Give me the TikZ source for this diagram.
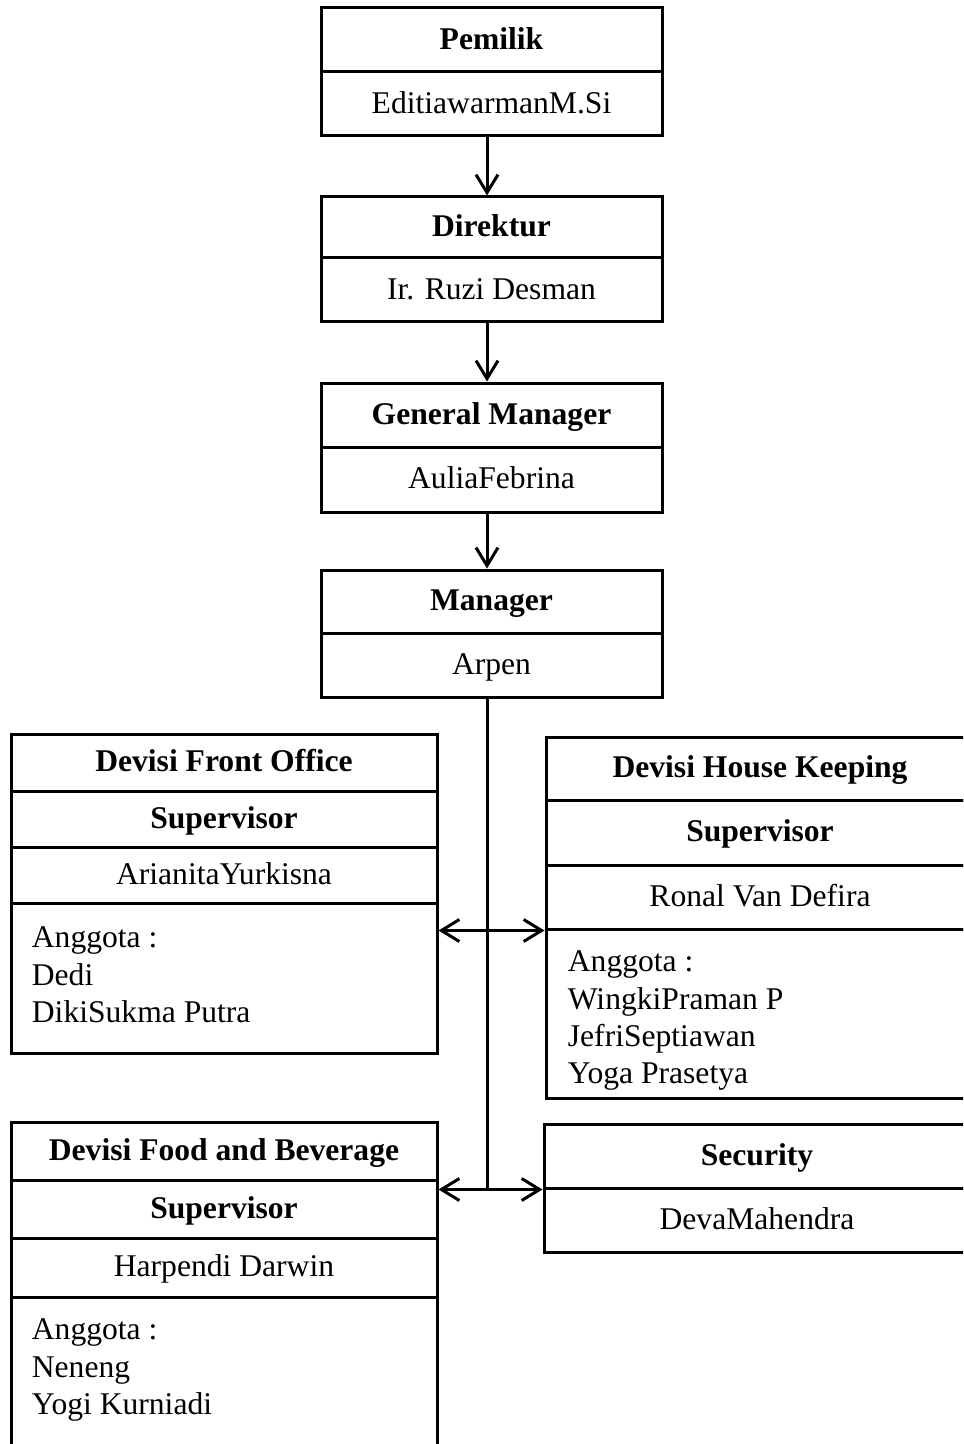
\documentclass[tikz,border=0pt]{standalone}
\usepackage{fontspec}
\setmainfont{Liberation Serif}
\usetikzlibrary{arrows.meta}
\begin{document}
\begin{tikzpicture}[x=0.5pt,y=-0.5pt,
  cell/.style={draw, line width=1.5pt, inner sep=0pt, rectangle,
    font=\fontsize{15.8pt}{18.65pt}\selectfont,
    text height=1.0em, text depth=0.086em},
  topcell/.style={cell, minimum width=170.5pt},
  widecell/.style={cell, minimum width=213pt},
  hkcell/.style={cell, minimum width=214pt},
  bf/.style={font=\fontsize{15.8pt}{18.65pt}\selectfont\bfseries},
  listtxt/.style={inner sep=0pt, align=left, anchor=north west,
    font=\fontsize{15.8pt}{18.65pt}\selectfont},
  arr/.style={-{Straight Barb[length=9pt,width=11pt]}, line width=1.5pt},
  arrtwo/.style={{Straight Barb[length=9pt,width=11pt]}-{Straight Barb[length=9pt,width=11pt]}, line width=1.5pt},
  spineline/.style={line width=1.5pt}
]
\useasboundingbox (0,0) rectangle (963,1444);
\clip (0,0) rectangle (963,1444);
\coordinate (spine) at (487,0);

% top column
\node[topcell, bf, minimum height=32pt] (pem) at (491.5,40) {Pemilik};
\node[topcell, minimum height=32pt] (edi) at (491.5,104) {EditiawarmanM.Si};
\node[topcell, bf, minimum height=30.5pt] (dir) at (491.5,227.5) {Direktur};
\node[topcell, minimum height=32pt] (ruzi) at (491.5,290) {Ir. Ruzi Desman};
\node[topcell, bf, minimum height=32pt] (gm) at (491.5,415) {General Manager};
\node[topcell, minimum height=32.5pt] (aulia) at (491.5,479.5) {AuliaFebrina};
\node[topcell, bf, minimum height=31.5pt] (mgr) at (491.5,601.5) {Manager};
\node[topcell, minimum height=32pt] (arpen) at (491.5,665) {Arpen};

% front office
\node[widecell, bf, minimum height=28.5pt] (fot) at (224,762.5) {Devisi Front Office};
\node[widecell, bf, minimum height=28pt] (fos) at (224,819) {Supervisor};
\node[widecell, minimum height=28pt] (fon) at (224,875) {ArianitaYurkisna};
\node[widecell, minimum height=75pt] (fol) at (224,978) {};
\node[listtxt] (folt) at ([xshift=11pt,yshift=-12.5pt]fol.north west) {Anggota :\\Dedi\\DikiSukma Putra};

% house keeping
\node[hkcell, bf, minimum height=31.5pt] (hkt) at (760,768.5) {Devisi House Keeping};
\node[hkcell, bf, minimum height=32.5pt] (hks) at (760,832.5) {Supervisor};
\node[hkcell, minimum height=32pt] (hkn) at (760,897) {Ronal Van Defira};
\node[hkcell, minimum height=84.5pt] (hkl) at (760,1013.5) {};
\node[listtxt] (hklt) at ([xshift=11.5pt,yshift=-11.5pt]hkl.north west) {Anggota :\\WingkiPraman P\\JefriSeptiawan\\Yoga Prasetya};

% food and beverage
\node[widecell, bf, minimum height=29pt] (fbt) at (224,1151) {Devisi Food and Beverage};
\node[widecell, bf, minimum height=29pt] (fbs) at (224,1209) {Supervisor};
\node[widecell, minimum height=29.5pt] (fbn) at (224,1267.5) {Harpendi Darwin};
\node[widecell, minimum height=86.5pt] (fbl) at (224,1383.5) {};
\node[listtxt] (fblt) at ([xshift=11pt,yshift=-11.5pt]fbl.north west) {Anggota :\\Neneng\\Yogi Kurniadi};

% security
\node[widecell, bf, minimum height=32pt] (sect) at (757,1156) {Security};
\node[widecell, minimum height=32pt] (secn) at (757,1220) {DevaMahendra};

% connectors
\draw[arr] (edi.south -| spine) -- (dir.north -| spine);
\draw[arr] (ruzi.south -| spine) -- (gm.north -| spine);
\draw[arr] (aulia.south -| spine) -- (mgr.north -| spine);
\draw[spineline] (arpen.south -| spine) -- (sect.south west -| spine);
\draw[arrtwo] (hkn.south west -| fol.east) -- (hkn.south west);
\draw[arrtwo] (sect.south west -| fbs.east) -- (sect.south west);
\end{tikzpicture}
\end{document}
